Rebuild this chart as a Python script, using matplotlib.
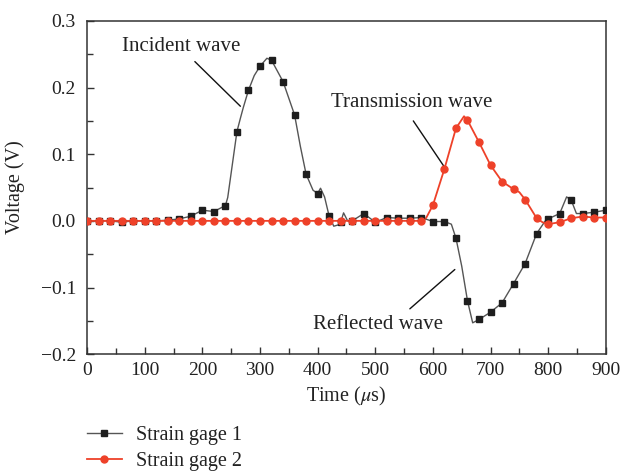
import numpy as np
import matplotlib
matplotlib.use('Agg')
import matplotlib.pyplot as plt

plt.rcParams['font.family'] = ['Liberation Serif', 'DejaVu Serif']
plt.rcParams['mathtext.fontset'] = 'stix'

# sample times (us) carrying a marker
marker_t = np.arange(0, 901, 20)

# strain gage 1 (incident + reflected wave), one value per marker time
gage1_v = [0.000, 0.000, 0.000, -0.002, 0.000, 0.000, 0.000, 0.001, 0.003, 0.007,
           0.016, 0.014, 0.023, 0.134, 0.196, 0.232, 0.241, 0.209, 0.159, 0.070,
           0.041, 0.007, -0.002, 0.000, 0.011, -0.002, 0.005, 0.004, 0.004, 0.005,
           -0.001, -0.001, -0.026, -0.120, -0.148, -0.137, -0.123, -0.094, -0.064, -0.019,
           0.003, 0.011, 0.031, 0.011, 0.013, 0.016]
# extra trace samples between markers
gage1_extra_t = [244, 266, 271, 290, 312, 370, 392, 405, 412, 428, 436, 445, 452,
                 632, 650, 669, 795, 832, 849]
gage1_extra_v = [0.035, 0.154, 0.170, 0.218, 0.244, 0.112, 0.046, 0.049, 0.036, -0.008,
                 -0.006, 0.012, 0.000, -0.005, -0.068, -0.153, 0.000, 0.036, 0.011]

# strain gage 2 (transmission wave)
gage2_v = [0.000] * 30 + [0.0235, 0.078, 0.139, 0.151, 0.118, 0.0835, 0.059, 0.0475,
                          0.032, 0.004, -0.005, -0.002, 0.004, 0.0065, 0.005, 0.005]
gage2_extra_t = [588, 654, 750, 790]
gage2_extra_v = [0.004, 0.157, 0.043, -0.002]


def merged(t_a, v_a, t_b, v_b):
    t = np.concatenate([t_a, t_b])
    v = np.concatenate([v_a, v_b])
    order = np.argsort(t)
    return t[order], v[order]


RED = '#ee4129'
DARK = '#1e1e1e'
TXT = '#222222'

fig = plt.figure(figsize=(6.22, 4.76), dpi=100)
ax = fig.add_axes([0.140, 0.256, 0.834, 0.700])

# trace lines
t1, v1 = merged(marker_t, gage1_v, gage1_extra_t, gage1_extra_v)
t2, v2 = merged(marker_t, gage2_v, gage2_extra_t, gage2_extra_v)
ax.plot(t1, v1, color='#555555', lw=1.0, zorder=2)
ax.plot(t2, v2, color=RED, lw=1.3, zorder=3)

# markers
ax.plot(marker_t, gage1_v, ls='none', marker='s', ms=4.8, color=DARK, zorder=4)
ax.plot(marker_t, gage2_v, ls='none', marker='o', ms=5.0, color=RED, zorder=5)

ax.set_xlim(0, 900)
ax.set_ylim(-0.2, 0.3)
ax.set_xticks(np.arange(0, 901, 100))
ax.set_xticks(np.arange(50, 900, 100), minor=True)
ax.set_yticks(np.arange(-0.2, 0.31, 0.1))
ax.set_yticks(np.arange(-0.15, 0.3, 0.1), minor=True)
ax.set_yticklabels(['\u22120.2', '\u22120.1', '0.0', '0.1', '0.2', '0.3'])
ax.tick_params(which='both', direction='in', color='#333333', labelsize=14,
               labelcolor=TXT, width=1.0)
ax.tick_params(which='major', length=5)
ax.tick_params(which='minor', length=4)
ax.tick_params(axis='x', pad=6)
ax.tick_params(axis='y', pad=8)
for s in ax.spines.values():
    s.set_color('#333333')
    s.set_linewidth(1.1)

ax.set_xlabel(r'Time ($\mu$s)', fontsize=14.5, color=TXT, va='center')
ax.set_ylabel('Voltage (V)', fontsize=14.5, color=TXT, va='center')
ax.xaxis.set_label_coords(0.5, -0.128)
ax.yaxis.set_label_coords(-0.139, 0.5)

# wave labels with leader lines
ann = dict(fontsize=15, color=TXT, ha='center', va='center')
line_kw = dict(arrowstyle='-', color='#111111', lw=1.0, shrinkA=0, shrinkB=0)
ax.text(163, 0.261, 'Incident wave', **ann)
ax.annotate('', xy=(266, 0.172), xytext=(187, 0.239), arrowprops=line_kw)
ax.text(564, 0.178, 'Transmission wave', **ann)
ax.annotate('', xy=(619, 0.082), xytext=(566, 0.150), arrowprops=line_kw)
ax.text(504, -0.156, 'Reflected wave', **ann)
ax.annotate('', xy=(638, -0.073), xytext=(560, -0.132), arrowprops=line_kw)

# legend below the axes
h1, = ax.plot([], [], color='#555555', lw=1.0, marker='s', ms=4.8, mfc=DARK, mec=DARK)
h2, = ax.plot([], [], color=RED, lw=1.3, marker='o', ms=5.0, mfc=RED, mec=RED)
fig.legend([h1, h2], ['Strain gage 1', 'Strain gage 2'], loc='upper left',
           bbox_to_anchor=(0.1394, 0.106), frameon=False, fontsize=14.5,
           handlelength=1.74, handletextpad=0.7, labelspacing=0.38, borderpad=0.0,
           borderaxespad=0.0, labelcolor=TXT)

fig.savefig('out.png', dpi=100)
